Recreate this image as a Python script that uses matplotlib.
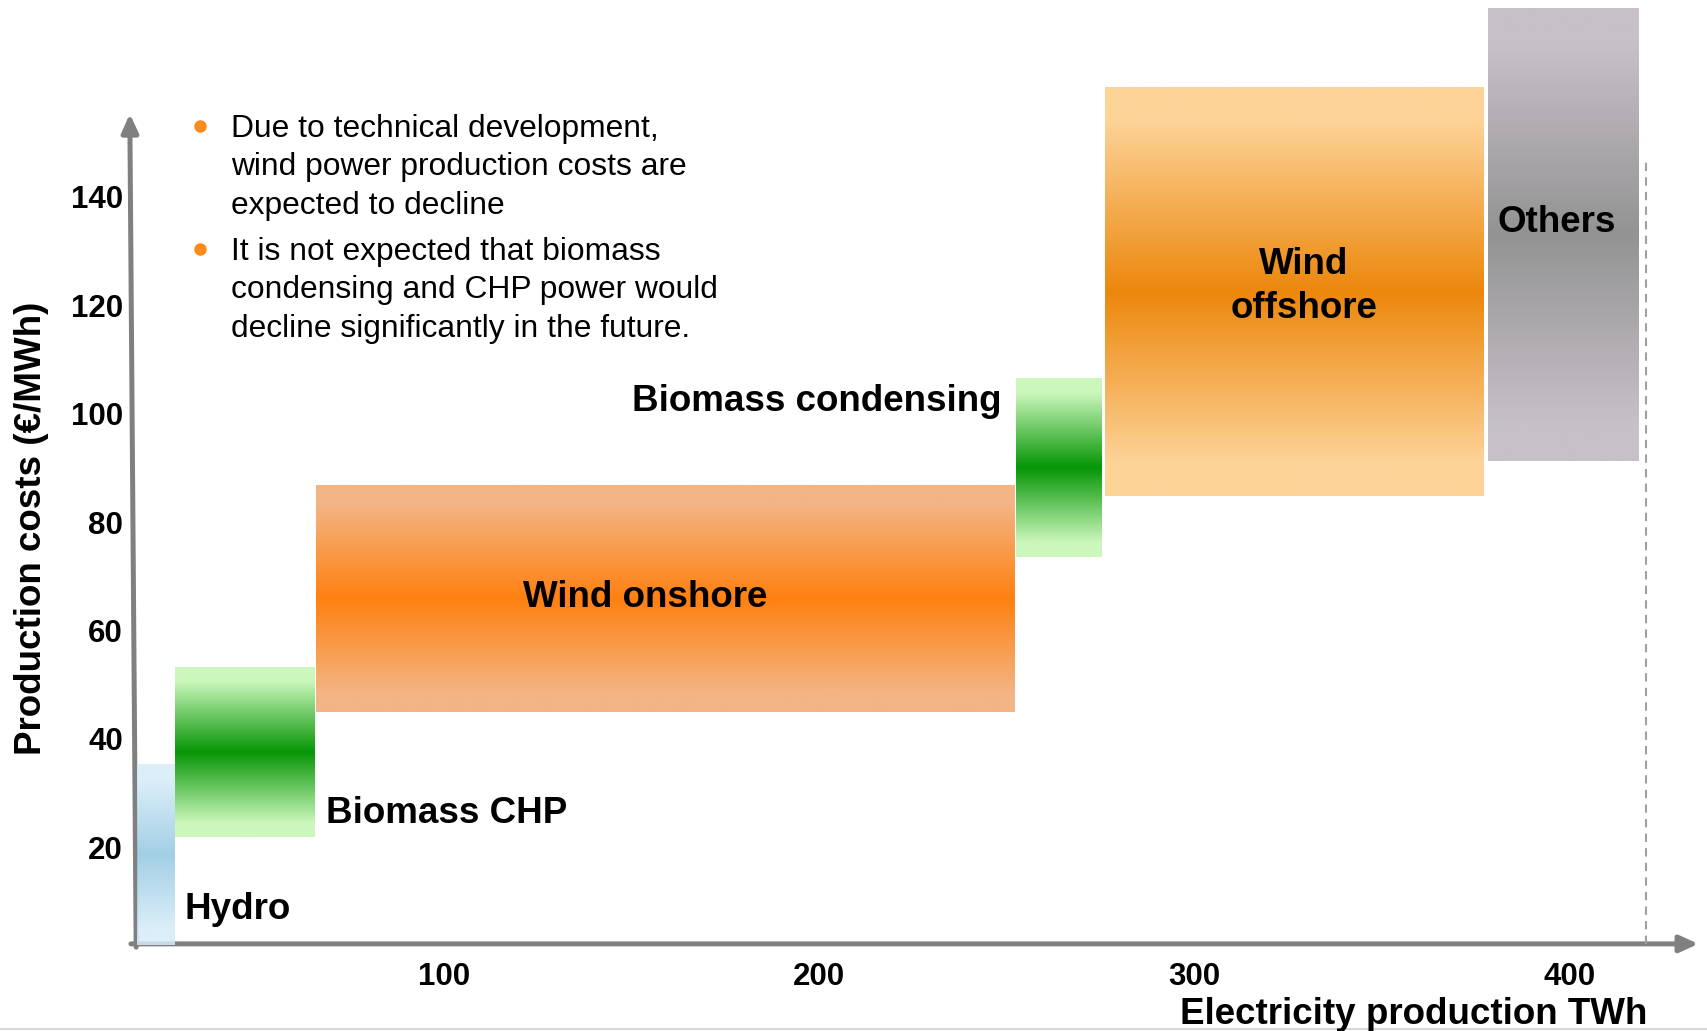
import matplotlib
matplotlib.use("Agg")
import matplotlib.pyplot as plt
import numpy as np
from matplotlib.colors import LinearSegmentedColormap
from matplotlib.lines import Line2D

plt.rcParams['font.family'] = ['Liberation Sans', 'DejaVu Sans']

# supply blocks: production range (TWh) and cost range (EUR/MWh)
sources = ["Hydro", "Biomass CHP", "Wind onshore", "Biomass condensing", "Wind offshore", "Others"]
twh_start = [18, 28.3, 65.7, 252.3, 276.1, 378.3]
twh_end = [28, 65.4, 252, 275.2, 377.1, 418.3]
cost_low = [2, 22, 45, 73.5, 84.8, 91.2]
cost_high = [35.3, 53.2, 86.8, 106.4, 160.1, 174.7]

y_ticks = [20, 40, 60, 80, 100, 120, 140]
x_ticks = [100, 200, 300, 400]

bullets = [
    "Due to technical development,\nwind power production costs are\nexpected to decline",
    "It is not expected that biomass\ncondensing and CHP power would\ndecline significantly in the future.",
]

# edge colour / middle colour of each block's vertical gradient
shades = [
    ("#d6ecf8", "#92c7e0"),
    ("#ccf7bc", "#069606"),
    ("#f3b585", "#ff8010"),
    ("#ccf7bc", "#069606"),
    ("#fdd398", "#ec870c"),
    ("#c7c0c8", "#939393"),
]

fig = plt.figure(figsize=(17.07, 10.31), dpi=100)
ax = fig.add_axes([0.0778, 0.0845, 0.9222, 0.9155])
for s in ax.spines.values():
    s.set_visible(False)

grad = np.linspace(0, 1, 256).reshape(-1, 1)
for i, name in enumerate(sources):
    edge, mid = shades[i]
    cmap = LinearSegmentedColormap.from_list(
        name, [(0, edge), (0.08, edge), (0.5, mid), (0.92, edge), (1, edge)])
    im = ax.imshow(grad, extent=[twh_start[i], twh_end[i], cost_low[i], cost_high[i]],
                   cmap=cmap, aspect='auto', origin='lower', interpolation='bilinear',
                   zorder=3 if i == 0 else 2)
    if i == 0:
        im.set_alpha(0.85)
        im.set_clip_on(False)

ax.set_xlim(17.0, 436.6)
ax.set_ylim(2.2, 176.3)

# axis arrows
arrow = dict(arrowstyle='-|>,head_length=0.55,head_width=0.25', mutation_scale=20,
             color='#808080', lw=3.6, shrinkA=0, shrinkB=0)
ax.annotate("", xy=(434.3, 2.2), xytext=(16.5, 2.2), arrowprops=arrow,
            annotation_clip=False, zorder=1)
ax.annotate("", xy=(16.2, 155.3), xytext=(17.9, 1.6), arrowprops=arrow,
            annotation_clip=False, zorder=1)

# total demand marker
ax.plot([420.3, 420.3], [2.2, 147], color='#a0a0a0', lw=1.5, dashes=(4, 3), zorder=1)

ax.set_yticks(y_ticks)
ax.set_xticks(x_ticks)
ax.tick_params(length=0, labelsize=22.5)
ax.tick_params(axis='y', pad=7)
ax.tick_params(axis='x', pad=13)
for lab in ax.get_xticklabels() + ax.get_yticklabels():
    lab.set_fontweight('bold')

lbl = dict(fontsize=26.5, fontweight='bold', color='black', zorder=5)
ax.text(30.9, 8.5, "Hydro", ha='left', va='center', **lbl)
ax.text(68.6, 26.3, "Biomass CHP", ha='left', va='center', **lbl)
ax.text(153.6, 66.0, "Wind onshore", ha='center', va='center', **lbl)
ax.text(248.5, 102.3, "Biomass condensing", ha='right', va='center', **lbl)
ax.text(329.2, 123.4, "Wind\noffshore", ha='center', va='center', linespacing=1.33, **lbl)
ax.text(396.5, 135.2, "Others", ha='center', va='center', **lbl)

fig.text(0.0185, 0.488, "Production costs (€/MWh)", rotation=90, ha='center', va='center',
         fontsize=26.5, fontweight='bold')
fig.text(0.965, 0.016, "Electricity production TWh", ha='right', va='center',
         fontsize=26.5, fontweight='bold')

# bullet notes
for y_mid, y_dot, txt in [(0.838, 0.8775, bullets[0]), (0.7187, 0.7582, bullets[1])]:
    fig.text(0.1352, y_mid, txt, ha='left', va='center', fontsize=22.9, linespacing=1.37)
    fig.add_artist(Line2D([0.1173], [y_dot], transform=fig.transFigure, marker='o',
                          markersize=8, color='#ff8c1a', linestyle='none'))

fig.add_artist(Line2D([0, 1], [0.002, 0.002], transform=fig.transFigure,
                      color='#d8d8d8', lw=1.5))

fig.savefig("out.png", dpi=100)
